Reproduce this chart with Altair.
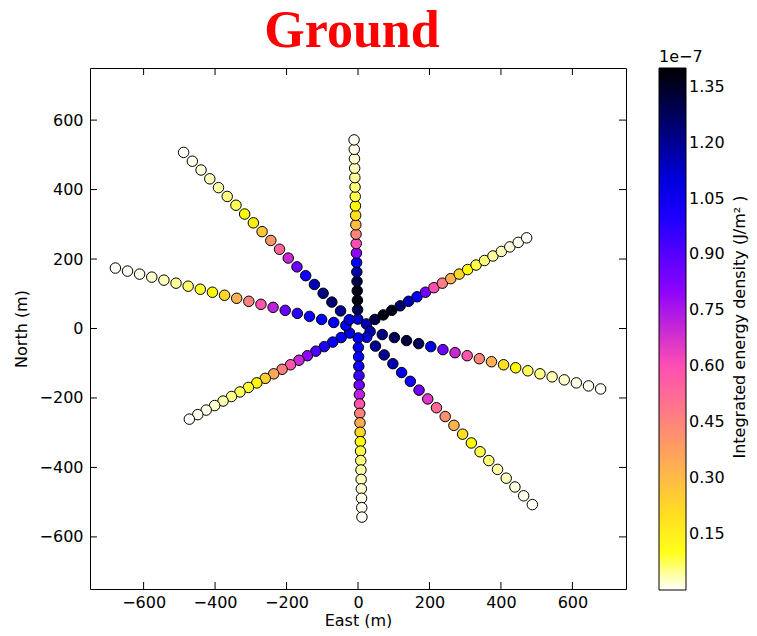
import altair as alt
import pandas as pd

# ---- data ----
# station distance along each arm (m, shower plane), 20 stations per arm
station_radius = [25, 50, 75, 100, 125, 150, 175, 200, 225, 250,
                  275, 300, 325, 350, 375, 400, 425, 450, 475, 500]

# ground position (East, North) of the outermost station of every arm (m)
arm_names = ["N", "NE", "E", "SE", "S", "SW", "W", "NW"]
arm_end_east = [-11, 472, 679, 488, 11, -472, -679, -488]
arm_end_north = [543, 261, -174, -507, -543, -261, 174, 507]

# integrated energy density (1e-7 J/m^2), station 1 (inner) -> 20 (outer)
energy_N = [1.10, 1.30, 1.38, 1.37, 1.30, 1.18, 1.04, 0.80, 0.60, 0.45,
            0.30, 0.20, 0.12, 0.08, 0.06, 0.045, 0.03, 0.02, 0.01, 0.004]
energy_NE = [1.15, 1.30, 1.38, 1.37, 1.25, 1.15, 1.05, 0.85, 0.60, 0.47,
             0.33, 0.22, 0.12, 0.08, 0.06, 0.045, 0.03, 0.015, 0.008, 0.003]
energy_E = [1.15, 1.22, 1.28, 1.32, 1.28, 1.08, 0.86, 0.70, 0.58, 0.45,
            0.33, 0.20, 0.12, 0.075, 0.055, 0.035, 0.02, 0.01, 0.005, 0.002]
energy_SE = [1.10, 1.20, 1.20, 1.16, 1.08, 1.02, 0.85, 0.66, 0.52, 0.42,
             0.32, 0.20, 0.12, 0.08, 0.06, 0.04, 0.03, 0.015, 0.008, 0.003]
energy_S = [1.07, 1.06, 1.04, 1.02, 0.95, 0.85, 0.72, 0.58, 0.46, 0.34,
            0.22, 0.12, 0.08, 0.055, 0.04, 0.03, 0.02, 0.01, 0.005, 0.002]
energy_SW = [1.08, 1.05, 1.03, 1.00, 0.92, 0.80, 0.70, 0.58, 0.46, 0.35,
             0.24, 0.13, 0.09, 0.07, 0.05, 0.035, 0.02, 0.01, 0.005, 0.002]
energy_W = [1.07, 1.06, 1.05, 1.03, 0.98, 0.87, 0.72, 0.58, 0.46, 0.33,
            0.22, 0.13, 0.09, 0.065, 0.045, 0.03, 0.02, 0.01, 0.005, 0.002]
energy_NW = [1.10, 1.20, 1.24, 1.22, 1.15, 1.02, 0.86, 0.70, 0.54, 0.40,
             0.27, 0.16, 0.11, 0.075, 0.055, 0.04, 0.03, 0.015, 0.008, 0.003]
arm_energy = [energy_N, energy_NE, energy_E, energy_SE,
              energy_S, energy_SW, energy_W, energy_NW]

axis_ticks = [-600, -400, -200, 0, 200, 400, 600]
colorbar_ticks = [0.15, 0.30, 0.45, 0.60, 0.75, 0.90, 1.05, 1.20, 1.35]

chart_title = "Ground"
colorbar_title = "Integrated energy density (J/m\u00b2 )"

# gnuplot2_r colour map stops
cmap_domain = [0.0, 0.112, 0.602, 0.812, 1.05, 1.4]
cmap_range = ["#ffffff", "#ffff00", "#ff4db3", "#8700ff", "#0000ff", "#000000"]

# ---- build table ----
rows = []
for name, ex, ny, en in zip(arm_names, arm_end_east, arm_end_north, arm_energy):
    for r, e in zip(station_radius, en):
        f = r / station_radius[-1]
        rows.append({"arm": name, "east": ex * f, "north": ny * f, "energy": e})
df = pd.DataFrame(rows)

W, H = 536, 521
FONT = "DejaVu Sans"

xs = alt.Scale(domain=[-750, 750], nice=False, zero=False)
ys = alt.Scale(domain=[-750, 750], nice=False, zero=False)
x_axis = alt.Axis(values=axis_ticks, format="d", ticks=False, domain=False,
                  labelPadding=5, labelFontSize=16, labelFont=FONT, labelColor="black",
                  titleFontSize=16, titleFont=FONT, titleFontWeight="normal",
                  titleColor="black", titleY=36, titleBaseline="alphabetic", grid=False)
y_axis = alt.Axis(values=axis_ticks, format="d", ticks=False, domain=False,
                  labelPadding=7, labelFontSize=16, labelFont=FONT, labelColor="black",
                  titleFontSize=16, titleFont=FONT, titleFontWeight="normal",
                  titleColor="black", titlePadding=10, grid=False)

x_enc = alt.X("east:Q", scale=xs, axis=x_axis, title="East (m)")
y_enc = alt.Y("north:Q", scale=ys, axis=y_axis, title="North (m)")

color_scale = alt.Scale(domain=cmap_domain, range=cmap_range, interpolate="rgb")

points = alt.Chart(df).mark_circle(
    size=110, stroke="black", strokeWidth=1, opacity=1
).encode(
    x=x_enc,
    y=y_enc,
    color=alt.Color(
        "energy:Q", scale=color_scale,
        legend=alt.Legend(
            title="1e\u22127", orient="none", legendX=569, legendY=-19,
            direction="vertical", gradientLength=522, gradientThickness=27,
            gradientStrokeColor="black", gradientStrokeWidth=1,
            values=colorbar_ticks, format=".2f", labelOverlap=False,
            labelFontSize=16, labelFont=FONT, labelColor="black", labelOffset=3,
            titleFontSize=16, titleFont=FONT, titleFontWeight="normal",
            titleColor="black", titlePadding=3, titleAnchor="start",
        ),
    ),
)

xt = pd.DataFrame({"east": axis_ticks})
yt = pd.DataFrame({"north": axis_ticks})
TL = 7
bottom_ticks = alt.Chart(xt).mark_rule(color="black", strokeWidth=1).encode(
    x=x_enc, y=alt.value(H), y2=alt.value(H - TL))
top_ticks = alt.Chart(xt).mark_rule(color="black", strokeWidth=1).encode(
    x=x_enc, y=alt.value(0), y2=alt.value(TL))
left_ticks = alt.Chart(yt).mark_rule(color="black", strokeWidth=1).encode(
    y=y_enc, x=alt.value(0), x2=alt.value(TL))
right_ticks = alt.Chart(yt).mark_rule(color="black", strokeWidth=1).encode(
    y=y_enc, x=alt.value(W), x2=alt.value(W - TL))

cb_label = alt.Chart(pd.DataFrame({"t": [colorbar_title]})).mark_text(
    angle=270, fontSize=16, font=FONT, color="black", align="center", baseline="middle"
).encode(text="t:N", x=alt.value(650), y=alt.value(259))

title_text = alt.Chart(pd.DataFrame({"t": [chart_title]})).mark_text(
    font="Liberation Serif", fontSize=52, fontWeight="bold", color="red",
    align="center", baseline="alphabetic"
).encode(text="t:N", x=alt.value(262), y=alt.value(-21))

chart = alt.layer(
    points, bottom_ticks, top_ticks, left_ticks, right_ticks, cb_label, title_text
).properties(
    width=W, height=H,
    background="white",
    padding={"left": 82, "top": 60, "right": 123, "bottom": 39},
    autosize=alt.AutoSizeParams(type="none"),
).configure_view(stroke="black", strokeWidth=1)

chart.save("out.html", embed_options={"renderer": "svg", "actions": False})
